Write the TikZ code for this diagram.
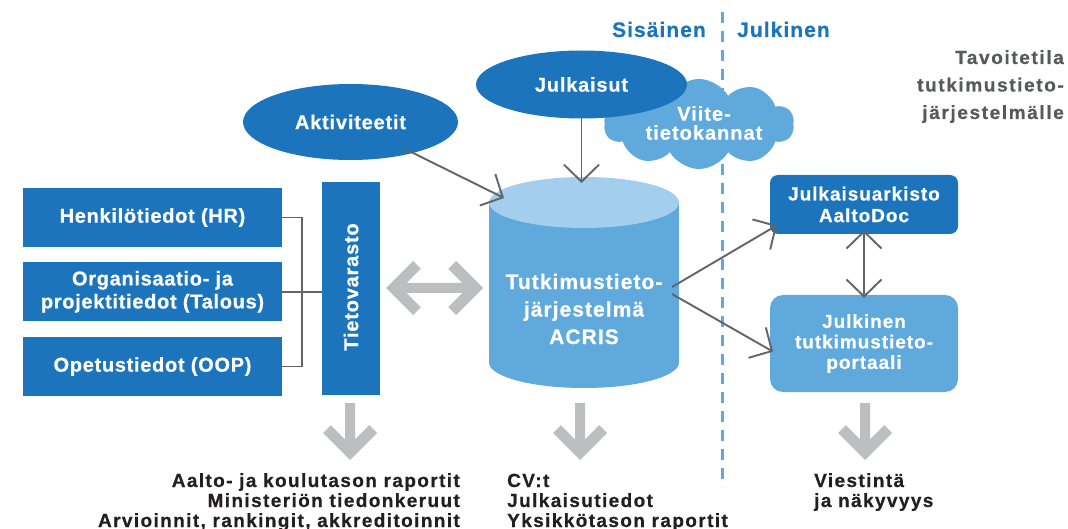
\documentclass[tikz,border=0pt]{standalone}
\usepackage{fontspec}
\setmainfont{Liberation Sans}
\usetikzlibrary{shapes.geometric,shapes.symbols,arrows.meta,calc}
\definecolor{dblue}{HTML}{1C75BC}
\definecolor{lblue}{HTML}{5FA9DC}
\definecolor{ctop}{HTML}{A3CEEE}
\definecolor{agray}{HTML}{BCBEC0}
\definecolor{lgray}{HTML}{636466}
\definecolor{tgray}{HTML}{58595B}
\definecolor{tblack}{HTML}{231F20}
\newcommand\myF[3]{\bfseries\fontsize{#1}{#2}\selectfont\addfontfeature{LetterSpace=#3,FakeBold=0.6}}
\tikzset{
  barb/.tip={Straight Barb[length=17pt,width=35pt]},
  lbl/.style={text=white, align=center, inner sep=0pt},
  dbox/.style={fill=dblue, minimum width=259pt, minimum height=59pt, inner sep=0pt, text=white, align=center, font=\myF{20}{23}{3.5}},
  conn/.style={draw=lgray, line width=1.9pt},
  arr/.style={conn,-barb},
  darr/.style={conn,barb-barb},
  dashline/.style={draw=lblue, line width=2.5pt, dash pattern=on 11pt off 8pt},
  bot/.style={text=tblack, inner sep=0pt, font=\myF{19}{20}{7.3}},
  head/.style={inner sep=0pt, font=\myF{21}{25}{5}},
  tav/.style={inner sep=0pt, text=tgray, font=\myF{19}{27}{8.5}, anchor=base east},
  downarr/.pic={\fill[agray] (0,0) -- (-27,-27) -- (-19.2,-34.8) -- (-5,-20.6) -- (-5,-57) -- (5,-57) -- (5,-20.6) -- (19.2,-34.8) -- (27,-27) -- cycle;}
}
\begin{document}
\begin{tikzpicture}[x=1pt,y=-1pt]
\useasboundingbox (0,0) rectangle (1068,529);
% divider
\draw[dashline] (722.5,12) -- (722.5,487);
\node[head, text=dblue, anchor=base east] (sis) at (706,37) {Sisäinen};
\node[head, text=dblue, anchor=base west] (jul) at (737,37) {Julkinen};
\node[tav] (tav1) at (1064,64) {Tavoitetila};
\node[tav] (tav2) at (1064,91.5) {tutkimustieto-};
\node[tav] (tav3) at (1064,119) {järjestelmälle};
% cloud and ellipses
\node[cloud, cloud puffs=10, cloud puff arc=120, aspect=2.1, fill=lblue, minimum width=190pt, minimum height=90pt, inner sep=0pt] (cloud) at (699,124) {};
\node[lbl, font=\myF{20}{19}{5}] (viite) at (704,123) {Viite-\\tietokannat};
\node[ellipse, fill=dblue, minimum width=211pt, minimum height=68pt, lbl, font=\myF{20}{23}{4}] (julk) at (581.5,84.5) {Julkaisut};
\node[ellipse, fill=dblue, minimum width=215pt, minimum height=76pt, lbl, font=\myF{20}{23}{4}] (akt) at (350.5,122) {Aktiviteetit};
% cylinder
\fill[lblue] (489,202.5) rectangle (679,362.5);
\fill[lblue] (584,362.5) ellipse [x radius=95, y radius=25.5];
\fill[ctop] (584,202.5) ellipse [x radius=95, y radius=25.5];
\node[lbl, font=\myF{21}{27.5}{5}] (acris) at (584,309) {Tutkimustieto-\\järjestelmä\\ACRIS};
\coordinate (acrisTL) at (504,198);
\coordinate (acrisT) at (581.5,183);
\coordinate (acrisR1) at (672,287);
\coordinate (acrisR2) at (672,294);
% left boxes
\node[dbox] (hr) at (152.5,217.5) {Henkilötiedot (HR)};
\node[dbox] (org) at (152.5,291.75) {Organisaatio- ja\\projektitiedot (Talous)};
\node[dbox] (oop) at (152.5,366.5) {Opetustiedot (OOP)};
\node[fill=dblue, minimum width=58pt, minimum height=213pt, inner sep=0pt] (tv) at (351,288.5) {};
\node[lbl, rotate=90, font=\myF{20}{23}{4}] (tvt) at (351,287) {Tietovarasto};
% right boxes
\node[fill=dblue, rounded corners=8pt, minimum width=188pt, minimum height=59pt, lbl, font=\myF{19}{21.6}{5}] (ark) at (864,204.5) {Julkaisuarkisto\\AaltoDoc};
\node[fill=lblue, rounded corners=13pt, minimum width=188pt, minimum height=97pt, lbl, font=\myF{19}{20.5}{5}] (port) at (864,343.5) {Julkinen\\tutkimustieto-\\portaali};
% connectors
\draw[conn] (hr.east) -- ++(20,0) |- (oop.east);
\draw[conn] (org.east) -- (org.east -| tv.west);
\draw[arr, shorten <=60pt] (akt.center) -- (acrisTL);
\draw[arr] ($(julk.center)+(0,24)$) -- (acrisT);
\draw[arr] (acrisR1) -- ($(ark.south west)+(7.3,-9)$);
\draw[arr] (acrisR2) -- ($(port.west)+(3.3,8.2)$);
\draw[darr] ($(ark.south)+(0,-4)$) -- ($(port.north)+(0,3)$);
% big grey arrows
\fill[agray] (386,288) -- (413,261) -- (420.8,268.8) -- (406.6,283) -- (462.4,283) -- (448.2,268.8) -- (456,261) -- (483,288) -- (456,315) -- (448.2,307.2) -- (462.4,293) -- (406.6,293) -- (420.8,307.2) -- (413,315) -- cycle;
\pic at (350,460) {downarr};
\pic at (580,460) {downarr};
\pic at (865,460) {downarr};
% bottom texts
\node[bot, anchor=base east] (b1) at (460,487) {Aalto- ja koulutason raportit};
\node[bot, anchor=base east] (b2) at (460,507) {Ministeriön tiedonkeruut};
\node[bot, anchor=base east] (b3) at (460,527) {Arvioinnit, rankingit, akkreditoinnit};
\node[bot, anchor=base west] (c1) at (507,487) {CV:t};
\node[bot, anchor=base west] (c2) at (507,507) {Julkaisutiedot};
\node[bot, anchor=base west] (c3) at (507,527) {Yksikkötason raportit};
\node[bot, anchor=base west] (v1) at (814,487) {Viestintä};
\node[bot, anchor=base west] (v2) at (814,507) {ja näkyvyys};
\end{tikzpicture}
\end{document}
